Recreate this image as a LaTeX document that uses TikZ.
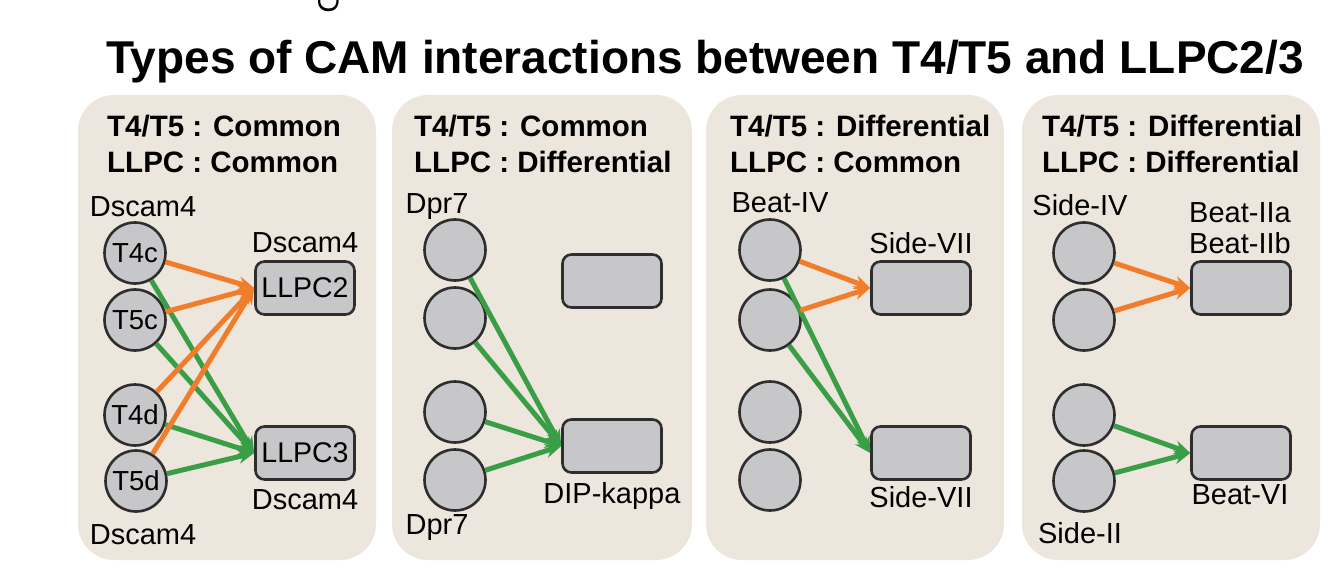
\documentclass[tikz,border=0pt]{standalone}
\usepackage{fontspec}
\setmainfont{Liberation Sans}
\usetikzlibrary{arrows.meta}
\definecolor{panelbg}{HTML}{EDE6DC}
\definecolor{cellgray}{HTML}{C7C7C9}
\definecolor{edgegray}{HTML}{2E2E2E}
\definecolor{org}{HTML}{F07D2B}
\definecolor{grn}{HTML}{3A9E47}
\tikzset{
  panel/.style={fill=panelbg,draw=none,rounded corners=36pt},
  cell/.style={circle,fill=cellgray,draw=edgegray,line width=2.6pt,minimum size=61pt,inner sep=0pt,font=\fontsize{27.5}{30}\selectfont},
  llpc/.style={rectangle,rounded corners=9pt,fill=cellgray,draw=edgegray,line width=2.6pt,minimum width=99pt,minimum height=53pt,inner sep=0pt,font=\fontsize{28.5}{30}\selectfont},
  lbl/.style={font=\fontsize{29}{32}\selectfont,inner sep=0pt},
  hdr/.style={font=\fontsize{29.5}{35.5}\selectfont\bfseries,align=left,anchor=north west,inner sep=0pt},
  oa/.style={draw=org,line width=5pt,-{Stealth[length=16pt,width=14pt]}},
  ga/.style={draw=grn,line width=5pt,-{Stealth[length=16pt,width=14pt]}},
}
\begin{document}
\begin{tikzpicture}[x=1pt,y=-1pt]
\useasboundingbox (0,0) rectangle (1334,583);
\fill[white] (0,0) rectangle (1334,583);
\node[font=\fontsize{30}{32}\selectfont,rotate=-90,inner sep=0pt] (dfrag) at (329,2) {D};
\node[font=\fontsize{46}{50}\selectfont\bfseries,inner sep=0pt] (title) at (705,62) {Types of CAM interactions between T4/T5 and LLPC2/3};
% panels
\fill[panel] (78,95) rectangle (376,560);
\fill[panel] (392,95) rectangle (692,560);
\fill[panel] (706,95) rectangle (1004,560);
\fill[panel] (1022,95) rectangle (1320,560);
% headers
\node[hdr] (h1) at (107,115) {T4/T5 : Common\\LLPC : Common};
\node[hdr] (h2) at (414,115) {T4/T5 : Common\\LLPC : Differential};
\node[hdr] (h3) at (730,115) {T4/T5 : Differential\\LLPC : Common};
\node[hdr] (h4) at (1042,115) {T4/T5 : Differential\\LLPC : Differential};
% panel 1
\node[cell] (a1) at (135,253) {T4c};
\node[cell] (a2) at (135,320) {T5c};
\node[cell] (a3) at (135,415) {T4d};
\node[cell] (a4) at (136,481) {T5d};
\node[llpc] (ar1) at (305,288) {LLPC2};
\node[llpc] (ar2) at (305,453) {LLPC3};
\node[lbl] (al1) at (143,207) {Dscam4};
\node[lbl] (al2) at (143,535) {Dscam4};
\node[lbl] (al3) at (305,243) {Dscam4};
\node[lbl] (al4) at (305,500) {Dscam4};
\foreach \n in {a1,a2,a3,a4} \draw[ga] (\n) -- (ar2.west);
\foreach \n in {a1,a2,a3,a4} \draw[oa] (\n) -- (ar1.west);
% panel 2
\node[cell] (b1) at (455,250) {};
\node[cell] (b2) at (455,318) {};
\node[cell] (b3) at (455,412) {};
\node[cell] (b4) at (455,480) {};
\node[llpc] (br1) at (612,281) {};
\node[llpc] (br2) at (612,446) {};
\node[lbl] (bl1) at (437,207) {Dpr7};
\node[lbl] (bl2) at (437,528) {Dpr7};
\node[lbl] (bl3) at (612,496) {DIP-kappa};
\foreach \n in {b1,b2,b3,b4} \draw[ga] (\n) -- (br2.west);
% panel 3
\node[cell] (c1) at (770,250) {};
\node[cell] (c2) at (770,320) {};
\node[cell] (c3) at (770,412) {};
\node[cell] (c4) at (770,480) {};
\node[llpc] (cr1) at (921,288) {};
\node[llpc] (cr2) at (921,453) {};
\node[lbl] (cl1) at (780,203) {Beat-IV};
\node[lbl] (cl2) at (921,243) {Side-VII};
\node[lbl] (cl3) at (921,497) {Side-VII};
\foreach \n in {c1,c2} \draw[ga] (\n) -- (cr2.west);
\foreach \n in {c1,c2} \draw[oa] (\n) -- (cr1.west);
% panel 4
\node[cell] (d1) at (1084,253) {};
\node[cell] (d2) at (1084,320) {};
\node[cell] (d3) at (1084,415) {};
\node[cell] (d4) at (1084,481) {};
\node[llpc] (dr1) at (1241,288) {};
\node[llpc] (dr2) at (1241,453) {};
\node[lbl] (dl1) at (1080,205) {Side-IV};
\node[lbl] (dl2) at (1240,213) {Beat-IIa};
\node[lbl] (dl3) at (1240,243) {Beat-IIb};
\node[lbl] (dl4) at (1240,495) {Beat-VI};
\node[lbl] (dl5) at (1080,533) {Side-II};
\foreach \n in {d1,d2} \draw[oa] (\n) -- (dr1.west);
\foreach \n in {d3,d4} \draw[ga] (\n) -- (dr2.west);
\end{tikzpicture}
\end{document}
